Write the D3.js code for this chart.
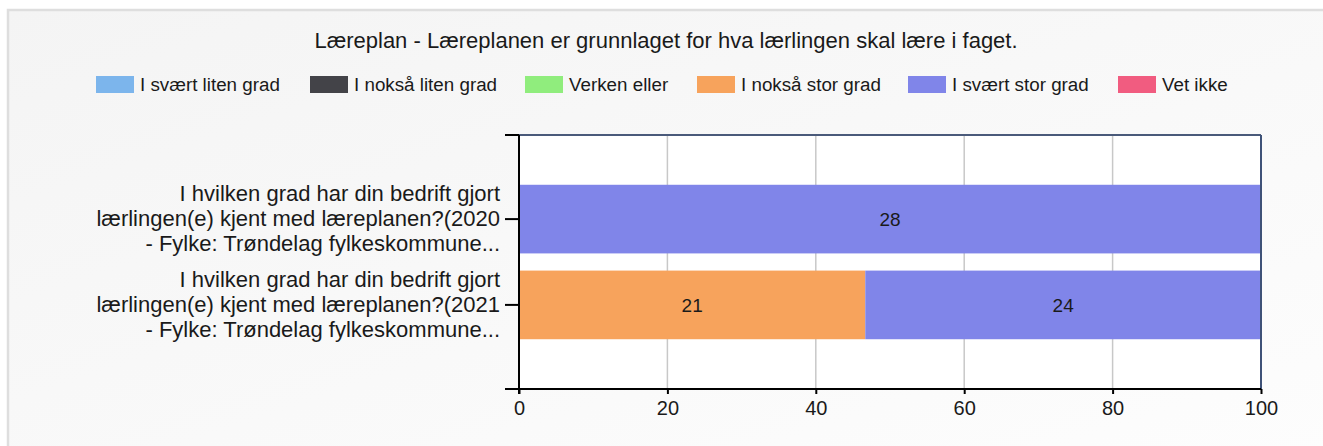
<!DOCTYPE html>
<html>
<head>
<meta charset="UTF-8">
<title>Læreplan</title>
<script src="https://cdn.jsdelivr.net/npm/d3@7"></script>
<style>
  body, html { margin:0; padding:0; background:#fff; }
  text { font-family: "Liberation Sans", Arial, sans-serif; fill:#1a1a1a; }
</style>
</head>
<body>
<div id="chart"></div>
<script>
var title = "Læreplan - Læreplanen er grunnlaget for hva lærlingen skal lære i faget.";
var series = ["I svært liten grad", "I nokså liten grad", "Verken eller", "I nokså stor grad", "I svært stor grad", "Vet ikke"];
var colors = ["#7cb5ec", "#434348", "#90ed7d", "#f7a35c", "#8085e9", "#f15c80"];
var categories = ["2020", "2021"];
var categoryLabels = [
  ["I hvilken grad har din bedrift gjort", "lærlingen(e) kjent med læreplanen?(2020", "- Fylke: Trøndelag fylkeskommune..."],
  ["I hvilken grad har din bedrift gjort", "lærlingen(e) kjent med læreplanen?(2021", "- Fylke: Trøndelag fylkeskommune..."]
];
var counts2020 = [0, 0, 0, 0, 28, 0];
var counts2021 = [0, 0, 0, 21, 24, 0];
var xTicks = [0, 20, 40, 60, 80, 100];

// layout
var W = 1323, H = 446;
var plot = { left: 519, right: 1261, top: 135, bottom: 389 };
var legendX = [96, 310, 525, 697, 908, 1118];

var counts = [counts2020, counts2021];
// rows of percentages, one per category
var rows = categories.map(function(c, i) {
  var total = d3.sum(counts[i]);
  var r = { cat: c };
  series.forEach(function(s, j) { r[s] = counts[i][j] / total * 100; r[s + "_n"] = counts[i][j]; });
  return r;
});

var svg = d3.select("#chart").append("svg").attr("width", W).attr("height", H);

// panel background
var grad = svg.append("defs").append("linearGradient").attr("id", "bg")
  .attr("x1", "0").attr("y1", "0").attr("x2", "1").attr("y2", "1");
grad.append("stop").attr("offset", "0").attr("stop-color", "#f4f4f4");
grad.append("stop").attr("offset", "1").attr("stop-color", "#fdfdfd");
svg.append("rect").attr("x", 8).attr("y", 10).attr("width", W).attr("height", H)
  .attr("fill", "url(#bg)").attr("stroke", "#dedede").attr("stroke-width", 2.5);

svg.append("text").attr("x", 666).attr("y", 48).attr("text-anchor", "middle")
  .style("font-size", "22px").text(title);

// legend
var lg = svg.selectAll(".legend").data(series).enter().append("g")
  .attr("transform", function(d, i) { return "translate(" + legendX[i] + ",76)"; });
lg.append("rect").attr("width", 38).attr("height", 17)
  .attr("fill", function(d, i) { return colors[i]; });
lg.append("text").attr("x", 44).attr("y", 15).style("font-size", "18.8px").text(function(d) { return d; });

var x = d3.scaleLinear().domain([0, 100]).range([plot.left, plot.right]);
var y = d3.scaleBand().domain(categories).range([plot.top, plot.bottom])
  .paddingInner(0.2).paddingOuter(0.58);

svg.append("rect").attr("x", plot.left).attr("y", plot.top)
  .attr("width", plot.right - plot.left).attr("height", plot.bottom - plot.top).attr("fill", "#fff");

// grid
svg.selectAll(".grid").data(xTicks.slice(1, -1)).enter().append("line")
  .attr("x1", x).attr("x2", x).attr("y1", plot.top).attr("y2", plot.bottom)
  .attr("stroke", "#c8c8c8").attr("stroke-width", 1.5);

// bars
var stack = d3.stack().keys(series)(rows);
var layer = svg.selectAll(".layer").data(stack).enter().append("g")
  .attr("fill", function(d, i) { return colors[i]; });
layer.selectAll("rect").data(function(d) { return d; }).enter().append("rect")
  .attr("x", function(d) { return x(d[0]); })
  .attr("width", function(d) { return x(d[1]) - x(d[0]); })
  .attr("y", function(d) { return y(d.data.cat); })
  .attr("height", y.bandwidth());
layer.each(function(s) {
  d3.select(this).selectAll("text").data(s.filter(function(d) { return d[1] > d[0]; })).enter().append("text")
    .attr("x", function(d) { return (x(d[0]) + x(d[1])) / 2; })
    .attr("y", function(d) { return y(d.data.cat) + y.bandwidth() / 2 + 7; })
    .attr("text-anchor", "middle").style("font-size", "19px")
    .text(function(d) { return d.data[s.key + "_n"]; });
});

// plot frame top / right
svg.append("line").attr("x1", plot.left).attr("x2", plot.right).attr("y1", plot.top).attr("y2", plot.top)
  .attr("stroke", "#4a5a7a").attr("stroke-width", 2);
svg.append("line").attr("x1", plot.right).attr("x2", plot.right).attr("y1", plot.top).attr("y2", plot.bottom)
  .attr("stroke", "#3f5278").attr("stroke-width", 2);

// x axis
var xAxis = svg.append("g").attr("transform", "translate(0," + plot.bottom + ")")
  .call(d3.axisBottom(x).tickValues(xTicks).tickSize(5).tickPadding(7));
xAxis.select(".domain").attr("d", "M" + (plot.left - 14) + ",0H" + plot.right).attr("stroke-width", 2);
xAxis.selectAll(".tick line").attr("stroke-width", 2);
xAxis.selectAll("text").style("font-size", "20px").style("font-family", null).attr("fill", "#1a1a1a");

// y axis
var yAxis = svg.append("g").attr("transform", "translate(" + plot.left + ",0)")
  .call(d3.axisLeft(y).tickSize(14).tickFormat(""));
yAxis.select(".domain").attr("d", "M0," + plot.top + "V" + (plot.bottom + 5)).attr("stroke-width", 2);
yAxis.selectAll(".tick line").attr("stroke-width", 2);
yAxis.append("line").attr("x1", -14).attr("x2", 0).attr("y1", plot.top).attr("y2", plot.top)
  .attr("stroke", "#000").attr("stroke-width", 2);

var yl = svg.selectAll(".ylab").data(categories).enter().append("text")
  .attr("text-anchor", "end").style("font-size", "22px")
  .attr("transform", function(d) { return "translate(500," + (y(d) + y.bandwidth() / 2) + ")"; });
yl.selectAll("tspan").data(function(d, i) { return categoryLabels[i]; }).enter().append("tspan")
  .attr("x", 0).attr("y", function(d, i) { return (i - 1) * 25 + 7; })
  .text(function(d) { return d; });
</script>
</body>
</html>
